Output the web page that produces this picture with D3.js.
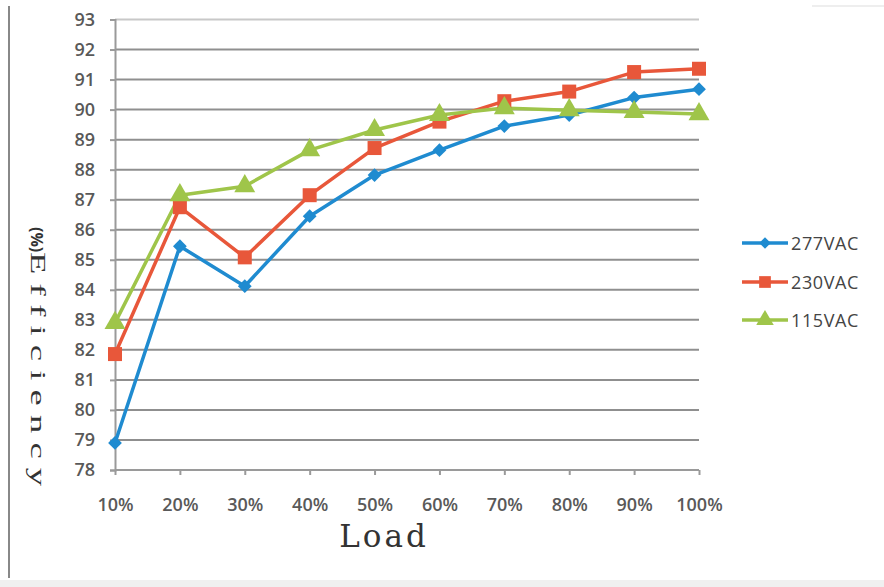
<!DOCTYPE html>
<html><head><meta charset="utf-8">
<script src="https://cdn.jsdelivr.net/npm/d3@7"></script>
<style>body{margin:0;background:#fff;}svg{display:block;}</style>
</head><body>
<svg id="c" width="884" height="587"></svg>
<script>
const categories = ["10%","20%","30%","40%","50%","60%","70%","80%","90%","100%"];
const v277 = [78.9, 85.45, 84.12, 86.45, 87.82, 88.65, 89.45, 89.82, 90.4, 90.68];
const v230 = [81.86, 86.75, 85.08, 87.15, 88.72, 89.6, 90.28, 90.6, 91.25, 91.36];
const v115 = [82.9, 87.15, 87.45, 88.65, 89.32, 89.82, 90.05, 89.98, 89.92, 89.85];
const yTicks = [78,79,80,81,82,83,84,85,86,87,88,89,90,91,92,93];
const seriesNames = ["277VAC","230VAC","115VAC"];
const colors = ["#1f8bd0","#e8573a","#9fc54a"];
const symbols = [d3.symbolSquare, d3.symbolSquare, d3.symbolTriangle];
const symRot = [45, 0, 0];
const symSizes = [95, 196, 190];

const svg = d3.select("#c");
// frame bits
svg.append("rect").attr("x",0).attr("y",580).attr("width",884).attr("height",7).attr("fill","#f0f0f0");
svg.append("line").attr("x1",9).attr("x2",9).attr("y1",6).attr("y2",578).attr("stroke","#888").attr("stroke-width",2);
svg.append("line").attr("x1",812).attr("x2",884).attr("y1",6).attr("y2",6).attr("stroke","#ddd").attr("stroke-width",1);

const x = d3.scalePoint().domain(categories).range([115, 699]);
const y = d3.scaleLinear().domain([78, 93]).range([470, 19.5]);

// gridlines
svg.append("g").selectAll("line").data(yTicks).join("line")
  .attr("x1",115).attr("x2",699).attr("y1",d=>y(d)).attr("y2",d=>y(d))
  .attr("stroke",d=>d===93?"#c8c8c8":"#8f8f8f").attr("stroke-width",2);

const tickFont = "Open Sans, sans-serif";
// y axis
const ya = svg.append("g").attr("transform","translate(115,0)")
  .call(d3.axisLeft(y).tickValues(yTicks).tickSize(5).tickPadding(15).tickFormat(d3.format("d")));
ya.select(".domain").attr("stroke","#9a9a9a").attr("stroke-width",2);
ya.selectAll(".tick line").attr("stroke","#9a9a9a").attr("stroke-width",2);
ya.selectAll("text").attr("font-family",tickFont).attr("font-size",18).attr("font-weight",600).attr("fill","#595959");

// x axis
const xa = svg.append("g").attr("transform","translate(0,470)")
  .call(d3.axisBottom(x).tickSize(5).tickPadding(23));
xa.select(".domain").attr("stroke","#9a9a9a").attr("stroke-width",2).attr("d","M115,0H699");
xa.selectAll(".tick line").attr("stroke","#9a9a9a").attr("stroke-width",2);
xa.selectAll("text").attr("font-family",tickFont).attr("font-size",18).attr("font-weight",600).attr("fill","#595959");

const all = [v277, v230, v115];
const line = d3.line().x((d,i)=>x(categories[i])).y(d=>y(d));
all.forEach((vals, s) => {
  svg.append("path").datum(vals).attr("d", line).attr("fill","none")
    .attr("stroke", colors[s]).attr("stroke-width", 3.5).attr("stroke-linejoin","round");
});
all.forEach((vals, s) => {
  svg.append("g").selectAll("path").data(vals).join("path")
    .attr("d", d3.symbol().type(symbols[s]).size(symSizes[s]))
    .attr("transform",(d,i)=>`translate(${x(categories[i])},${y(d)}) rotate(${symRot[s]})`)
    .attr("fill", colors[s]);
});

// legend
const legY = [243, 282, 320];
seriesNames.forEach((n, s) => {
  const g = svg.append("g");
  g.append("line").attr("x1",742).attr("x2",788).attr("y1",legY[s]).attr("y2",legY[s])
    .attr("stroke",colors[s]).attr("stroke-width",3.5);
  g.append("path").attr("d", d3.symbol().type(symbols[s]).size(symSizes[s]*0.7))
    .attr("transform",`translate(765,${legY[s]}) rotate(${symRot[s]})`).attr("fill",colors[s]);
  g.append("text").attr("x",791).attr("y",legY[s]+7).text(n)
    .attr("font-family","Open Sans, sans-serif").attr("font-size",18).attr("letter-spacing",0.6).attr("fill","#444");
});

// axis titles
svg.append("text").attr("transform","translate(384,547)").attr("text-anchor","middle")
  .attr("font-family","DejaVu Serif, Liberation Serif, serif").attr("font-size",31).attr("letter-spacing",3).attr("fill","#333").text("Load");
svg.append("text").attr("transform","translate(31,227) rotate(90)")
  .attr("font-family","Open Sans, sans-serif").attr("font-weight",700).attr("font-size",16).attr("fill","#333").text("(%)");
svg.append("text").attr("transform","translate(31,252) rotate(90) scale(1.75,1)")
  .attr("font-family","Liberation Serif, serif").attr("font-size",21).attr("letter-spacing",5.2)
  .attr("fill","#333").text("Efficiency");
</script>
</body></html>
